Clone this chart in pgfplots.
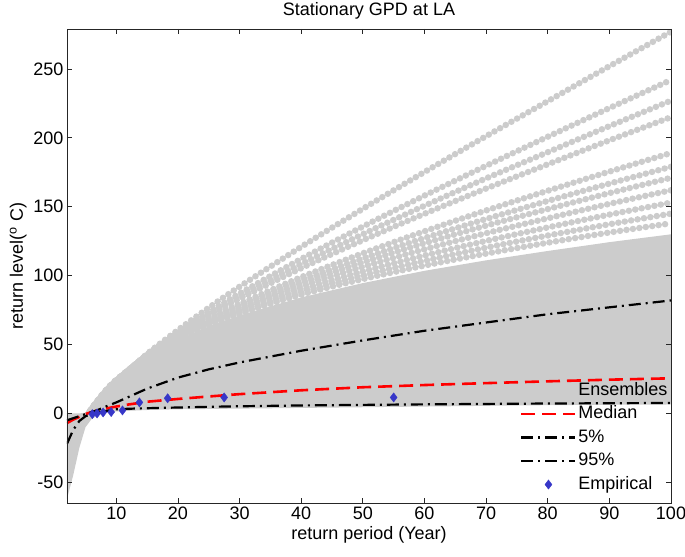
\documentclass[border=0pt]{standalone}
\usepackage{pgfplots}
\pgfplotsset{compat=1.18}
\usepackage{pgfplotstable}
\usepackage{fontspec}
\setmainfont{Liberation Sans}
\definecolor{ensgray}{RGB}{204,204,204}
\definecolor{empblue}{RGB}{55,55,200}

% Ensemble members (grey), return level vs return period
\pgfplotstableread{
T c1 c2 c3 c4 c5 c6 c7 c8 c9 c10 c11
3 -18.6 -20.0 -20.5 -21.0 -22.1 -22.4 -22.7 -23.1 -23.5 -23.8 -24.1
4 -10.2 -10.9 -11.2 -11.4 -11.8 -12.0 -12.1 -12.3 -12.4 -12.7 -12.7
5 -3.1 -3.3 -3.3 -3.5 -3.6 -3.6 -3.7 -3.7 -3.7 -3.8 -3.8
6 3.0 3.0 3.1 3.2 3.3 3.3 3.4 3.4 3.4 3.5 3.5
8 13.6 14.0 14.1 14.3 14.6 14.7 14.7 14.9 15.0 15.0 15.2
10 23.1 23.4 23.6 23.7 23.9 23.9 24.0 24.1 24.2 24.3 24.3
15 43.2 42.7 42.5 42.4 42.0 42.0 41.9 41.7 41.6 41.5 41.4
20 60.5 58.8 58.1 57.6 56.3 55.8 55.4 55.1 54.6 54.2 53.9
25 76.7 73.4 72.1 71.0 68.5 67.6 66.9 66.1 65.2 64.5 63.8
30 92.0 87.0 84.9 83.2 79.5 78.1 76.9 75.7 74.4 73.3 72.3
40 120.9 112.1 108.4 105.4 98.9 96.4 94.3 92.2 89.9 87.9 86.2
50 148.5 135.6 130.1 125.7 116.2 112.5 109.6 106.4 103.0 100.1 97.5
60 175.2 158.1 150.7 144.9 132.2 127.3 123.5 119.1 114.6 110.7 107.3
70 201.2 179.7 170.6 163.2 147.3 141.1 136.3 130.8 125.2 120.3 116.0
80 226.6 200.8 189.6 180.8 161.6 154.2 148.3 141.6 135.0 129.1 123.9
90 252.0 221.6 208.5 198.2 175.5 166.8 159.9 152.1 144.3 137.3 131.3
100 277 242 227 215 189 179 171 162 153 145 138
}\enscurves

% Summary curves: median, 5%, 95%
\pgfplotstableread{
T med p05 p95
2 -7 -22 -5
3 -4.5 -12 -3.5
4 -2.5 -5.5 -2
5 -0.5 -2 -0.5
6 1 -0.5 1
7 2.2 0.8 2.5
8 3.3 1.6 4.5
10 5 3 8
12 6.5 3.4 12
15 8.5 3.8 18
20 10.5 4.3 26
25 12.3 4.8 32
30 14 5.2 37
40 16.8 5.8 45.5
50 19 6.2 53
60 20.6 6.6 60
70 22 6.9 66
80 23.3 7.2 72
90 24.5 7.4 77
100 25.5 7.6 82
}\summary

% Empirical return levels
\pgfplotstableread{
T z
6.11 -0.5
6.875 0
7.86 0.7
9.17 1
11 2.2
13.75 8
18.33 11
27.5 11.6
55 11.6
}\empirical

\begin{document}
\begin{tikzpicture}
\useasboundingbox (-67bp,-54bp) rectangle (618bp,503bp);
\begin{axis}[
  scale only axis, width=604bp, height=474bp,
  xmin=2, xmax=100, ymin=-65, ymax=279,
  xtick={10,20,...,100}, ytick={-50,0,...,250},
  tick align=inside, major tick length=5bp,
  axis line style={black!85, line width=0.8bp},
  tick style={black!85, line width=0.8bp},
  axis on top,
  font=\fontsize{18bp}{21bp}\selectfont,
  /pgf/number format/assume math mode=true,
  title={Stationary GPD at LA},
  xlabel={return period (Year)},
  ylabel={return level(\textsuperscript{o} C)},
  legend style={draw=none, fill=none, at={(rel axis cs:0.745,0.263)}, anchor=north west,
    font=\fontsize{18bp}{21bp}\selectfont, row sep=3.5bp,
    nodes={inner sep=1.5bp, text height=13bp, text depth=4bp}},
  legend cell align=left,
  legend image code/.code={\draw[mark repeat=2,mark phase=2,#1] plot coordinates {(0bp,0bp) (27bp,0bp) (54bp,0bp)};},
]
% dense part of the ensemble
\addplot[fill=ensgray, draw=none, forget plot] coordinates {
(2,-62) (3,-45) (4,-25) (5,-10) (6,-4) (7,-1.5) (8,0) (10,1.5) (15,2.5) (20,3)
(30,3.5) (40,4) (50,4.5) (60,5) (70,5.5) (80,6) (90,6.3) (100,6.5)
(100,130) (90,124.3) (80,117.9) (70,111.1) (60,103.5) (50,94.6) (40,84.2) (30,71.2)
(25,63.1) (20,53.5) (15,41.3) (10,24.4) (8,15.2) (6,3.6) (5,0.5) (4,0) (3,0) (2,0)} -- cycle;
% upper ensemble members, drawn as chains of dots
\foreach \c in {c1,c2,c3,c4,c5,c6,c7,c8,c9,c10,c11}{
  \addplot[ensgray, line width=6.5bp, line cap=round, dash pattern=on 0bp off 6.5bp, smooth, forget plot] table[x=T, y=\c] {\enscurves};
}
\addlegendimage{only marks, mark=*, mark size=3bp, color=ensgray}
\addlegendentry{Ensembles}
\addplot[red, line width=2.6bp, dash pattern=on 14bp off 7bp] table[x=T, y=med] {\summary};
\addlegendentry{Median}
\addplot[black, line width=2.2bp, dash pattern=on 12bp off 5bp on 2bp off 5bp] table[x=T, y=p05] {\summary};
\addlegendentry{5\%}
\addplot[black, line width=2.2bp, dash pattern=on 12bp off 5bp on 2bp off 5bp] table[x=T, y=p95] {\summary};
\addlegendentry{95\%}
\addplot[only marks, mark=diamond*, mark size=4.6bp, color=empblue] table[x=T, y=z] {\empirical};
\addlegendentry{Empirical}
\end{axis}
\end{tikzpicture}
\end{document}
